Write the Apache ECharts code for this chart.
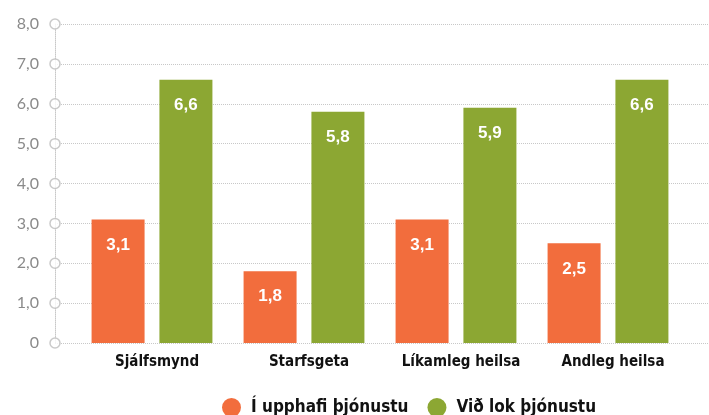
<!DOCTYPE html>
<html>
<head>
<meta charset="utf-8">
<script src="https://cdn.jsdelivr.net/npm/echarts@6/dist/echarts.min.js"></script>
<style>
  html, body { margin: 0; padding: 0; background: #fff; }
  #chart { width: 709px; height: 415px; }
</style>
</head>
<body>
<div id="chart"></div>
<script>
// flokkar og gildi
var categories = ['Sjálfsmynd', 'Starfsgeta', 'Líkamleg heilsa', 'Andleg heilsa'];
var upphaf = [3.1, 1.8, 3.1, 2.5];
var lok = [6.6, 5.8, 5.9, 6.6];
var seriesNames = ['Í upphafi þjónustu', 'Við lok þjónustu'];
var yTicks = [0, 1, 2, 3, 4, 5, 6, 7, 8];

var condensed = '"Liberation Sans Narrow", "DejaVu Sans Condensed", "Arial Narrow", sans-serif';

function fmt(v) {
  return v === 0 ? '0' : v.toFixed(1).replace('.', ',');
}

var myChart = echarts.init(document.getElementById('chart'));
myChart.setOption({
  animation: false,
  grid: [
    { left: 55, right: 0, top: 24, bottom: 72 },
    { left: 76, right: 25, top: 24, bottom: 72 }
  ],
  legend: {
    left: 217,
    top: 393,
    icon: 'circle',
    itemWidth: 19,
    itemHeight: 19,
    itemGap: 19,
    textStyle: { fontFamily: condensed, fontWeight: 'bold', fontSize: 17, color: '#111', padding: [0, 0, 0, 5] },
    data: seriesNames
  },
  xAxis: [
    { type: 'value', gridIndex: 0, min: 0, max: 1, show: false },
    {
      type: 'category',
      gridIndex: 1,
      data: categories,
      axisLine: { show: false },
      axisTick: { show: false },
      axisLabel: {
        interval: 0, margin: 12, padding: [0, 0, 0, 10],
        fontFamily: condensed, fontWeight: 'bold', fontSize: 15, color: '#111'
      }
    }
  ],
  yAxis: [
    {
      type: 'value',
      gridIndex: 0,
      min: 0,
      max: 8,
      interval: 1,
      axisLine: { show: true, lineStyle: { color: '#c8c8c8', type: 'dotted', width: 1 } },
      axisTick: { show: false },
      axisLabel: { margin: 16, fontSize: 16, color: '#8a8a8a', fontFamily: 'Lato, sans-serif', formatter: fmt },
      splitLine: { show: true, lineStyle: { color: '#c8c8c8', type: 'dotted', width: 1 } }
    },
    { type: 'value', gridIndex: 1, min: 0, max: 8, show: false }
  ],
  series: [
    {
      type: 'scatter',
      xAxisIndex: 0,
      yAxisIndex: 0,
      symbol: 'circle',
      symbolSize: 10,
      clip: false,
      silent: true,
      z: 5,
      itemStyle: { color: '#fff', borderColor: '#bdbdbd', borderWidth: 1.5 },
      data: yTicks.map(function (v) { return [0, v]; })
    },
    {
      name: seriesNames[0],
      type: 'bar',
      xAxisIndex: 1,
      yAxisIndex: 1,
      barWidth: 53,
      barGap: '28%',
      itemStyle: { color: '#F26D3D' },
      label: {
        show: true, position: 'insideTop', distance: 17,
        color: '#fff', fontWeight: 'bold', fontSize: 17, fontFamily: 'Arial, "Liberation Sans", sans-serif',
        formatter: function (p) { return fmt(p.value); }
      },
      data: upphaf
    },
    {
      name: seriesNames[1],
      type: 'bar',
      xAxisIndex: 1,
      yAxisIndex: 1,
      barWidth: 53,
      barGap: '28%',
      itemStyle: { color: '#8CA733' },
      label: {
        show: true, position: 'insideTop', distance: 17,
        color: '#fff', fontWeight: 'bold', fontSize: 17, fontFamily: 'Arial, "Liberation Sans", sans-serif',
        formatter: function (p) { return fmt(p.value); }
      },
      data: lok
    }
  ]
});
</script>
</body>
</html>
